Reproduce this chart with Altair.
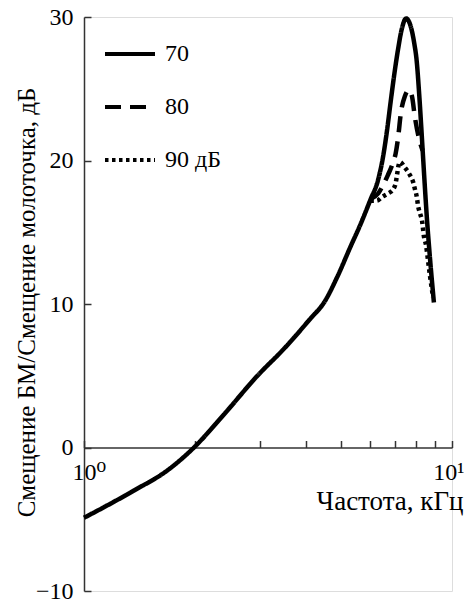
import altair as alt
import pandas as pd

# --- data ---
series_names = ["70", "80", "90 дБ"]

f70 = [1.0, 1.367, 1.684, 1.99, 2.40, 2.96, 3.50, 4.13, 4.49, 4.88, 5.30, 5.63, 6.01,
       6.29, 6.49, 6.66, 6.79, 6.96, 7.13, 7.31, 7.50, 7.69, 7.88, 8.02, 8.15, 8.27,
       8.40, 8.54, 8.70, 8.93]
y70 = [-4.9, -3.0, -1.6, 0.0, 2.3, 5.0, 6.9, 9.0, 10.1, 11.9, 14.0, 15.5, 17.3,
       18.6, 20.2, 22.1, 23.8, 25.9, 27.7, 29.2, 29.9, 29.5, 28.3, 26.9, 24.5, 21.9,
       19.0, 16.1, 13.4, 10.1]

f80 = [6.0, 6.3, 6.5, 6.7, 6.9, 7.03, 7.13, 7.27, 7.45, 7.62, 7.78, 7.93, 8.14, 8.32]
y80 = [17.3, 17.7, 18.3, 19.0, 19.8, 20.5, 21.5, 23.4, 24.5, 24.9, 24.5, 23.0, 21.5, 20.7]

f90 = [6.0, 6.25, 6.45, 6.7, 6.92, 7.04, 7.1, 7.15, 7.22, 7.45, 7.68, 7.84, 7.93,
       8.03, 8.08, 8.19, 8.29, 8.39, 8.5, 8.61, 8.72, 8.88]
y90 = [17.2, 17.2, 17.45, 17.7, 18.0, 18.5, 19.1, 19.6, 19.9, 19.5, 19.0, 18.5, 18.0,
       17.4, 16.9, 16.3, 15.8, 14.7, 14.1, 13.0, 11.9, 10.5]

x_ticks = [1, 2, 3, 4, 5, 6, 7, 8, 9, 10]
x_labels = [1, 10]
y_ticks = [-10, 0, 10, 20, 30]
x_domain = [1, 10]
y_domain = [-10, 30]

rows = []
for name, fs, ys in zip(series_names, [f70, f80, f90], [y70, y80, y90]):
    for i, (fv, yv) in enumerate(zip(fs, ys)):
        rows.append({"series": name, "f": fv, "y": yv, "i": i})
df = pd.DataFrame(rows)

W, H = 368, 574
y0_from_top = H * (y_domain[1] - 0) / (y_domain[1] - y_domain[0])
y0_from_bottom = H - y0_from_top

FONT = "Liberation Serif, Times New Roman, DejaVu Serif, serif"
AX = "#333333"

xscale = alt.Scale(type="log", domain=x_domain)
yscale = alt.Scale(domain=y_domain)

lines = alt.Chart(df).mark_line(interpolate="monotone", color="black", strokeWidth=4.5).encode(
    x=alt.X("f:Q", scale=xscale,
            axis=alt.Axis(orient="top", offset=-y0_from_top, labels=False, ticks=True,
                          tickSize=7, tickWidth=1.5, tickColor=AX, domain=True,
                          domainColor=AX, domainWidth=1.5, grid=False, title=None,
                          values=x_ticks)),
    y=alt.Y("y:Q", scale=yscale,
            axis=alt.Axis(orient="left", values=y_ticks, ticks=False, domain=True,
                          domainColor=AX, domainWidth=1.5, grid=False,
                          labelFont=FONT, labelFontSize=24, labelColor="black",
                          labelPadding=11, labelFlush=False,
                          title="Смещение БМ/Смещение молоточка, дБ",
                          titleFont=FONT, titleFontSize=25, titleFontWeight="normal",
                          titleColor="black", titleX=-50, titleY=285,
                          titleAlign="center", titleBaseline="alphabetic", titleAngle=270)),
    strokeDash=alt.StrokeDash(
        "series:N",
        scale=alt.Scale(domain=series_names, range=[[1, 0], [16, 9], [3.5, 3.5]]),
        legend=alt.Legend(orient="none", legendX=19, legendY=10, title=None,
                          symbolType="stroke", symbolSize=2500, symbolStrokeWidth=4,
                          symbolStrokeColor="black", labelFont=FONT, labelFontSize=24,
                          labelColor="black", labelOffset=8, rowPadding=14),
    ),
    order="i:Q",
)

guides = alt.Chart(df).mark_point(opacity=0).encode(
    x=alt.X("f:Q", scale=xscale,
            axis=alt.Axis(orient="bottom", offset=-y0_from_bottom, values=x_labels,
                          labelExpr="datum.value == 1 ? '10⁰' : '10¹'",
                          ticks=False, domain=False, grid=False,
                          labelFlush=True, labelFlushOffset=12,
                          labelFont=FONT, labelFontSize=24, labelColor="black",
                          labelPadding=13,
                          title="Частота, кГц", titleFont=FONT, titleFontSize=27,
                          titleFontWeight="normal", titleColor="black",
                          titleX=379, titleY=62, titleAlign="right",
                          titleBaseline="alphabetic", titleAnchor="end")),
    y=alt.Y("y:Q", scale=yscale,
            axis=alt.Axis(orient="right", offset=-W, values=y_ticks, labels=False,
                          ticks=True, tickSize=7, tickWidth=1.5, tickColor=AX,
                          domain=False, grid=False, title=None)),
)

chart = alt.layer(guides, lines).resolve_axis(x="independent", y="independent").properties(
    width=W, height=H,
    autosize=alt.AutoSizeParams(type="none"),
    padding={"left": 76, "top": 9, "right": 12, "bottom": 8},
).configure_view(stroke=None).configure(font=FONT)

chart.save("out.html", embed_options={"renderer": "svg", "actions": False})
